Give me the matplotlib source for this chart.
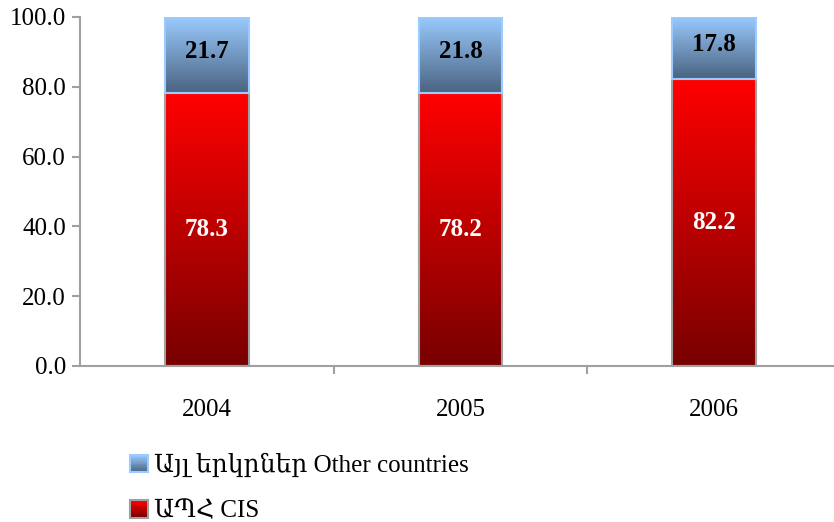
import numpy as np
import matplotlib.pyplot as plt
from matplotlib.colors import LinearSegmentedColormap
from matplotlib.legend_handler import HandlerBase
from matplotlib.patches import Rectangle, Patch

years = ["2004", "2005", "2006"]
cis = [78.3, 78.2, 82.2]
other = [21.7, 21.8, 17.8]
yticks = [0, 20, 40, 60, 80, 100]
label_other = "Այլ երկրներ Other countries"
label_cis = "ԱՊՀ CIS"

plt.rcParams['font.family'] = ['Liberation Serif', 'DejaVu Serif']

red_cmap = LinearSegmentedColormap.from_list("red", ["#780000", "#ff0000"])
blue_cmap = LinearSegmentedColormap.from_list("blue", ["#4a6380", "#9acbff"])
grad = np.linspace(0, 1, 256).reshape(-1, 1)


class GradientHandler(HandlerBase):
    """Legend square drawn as a stack of thin strips"""
    def __init__(self, cmap, edge):
        super().__init__()
        self.cmap = cmap
        self.edge = edge

    def create_artists(self, legend, orig_handle, xdescent, ydescent,
                       width, height, fontsize, trans):
        side = height * 0.85
        x0 = -xdescent + width - side
        y0 = -ydescent + (height - side) / 2
        arts = []
        n = 20
        for i in range(n):
            arts.append(Rectangle((x0, y0 + side * i / n), side, side / n + 0.3,
                                  facecolor=self.cmap(i / (n - 1)),
                                  edgecolor='none', transform=trans))
        arts.append(Rectangle((x0, y0), side, side, facecolor='none',
                              edgecolor=self.edge, linewidth=1.5,
                              transform=trans))
        return arts


fig = plt.figure(figsize=(8.34, 5.22), dpi=100)
ax = fig.add_axes([0.0959, 0.2989, 0.9125, 0.6686])

x = np.arange(len(years))
bars_cis = ax.bar(x, cis, width=0.33, color='none', edgecolor='#a0a0a0',
                  linewidth=1.5, zorder=3)
bars_oth = ax.bar(x, other, width=0.33, bottom=cis, color='none',
                  edgecolor='#9ccbff', linewidth=1.5, zorder=3)

for bars, cmap in ((bars_cis, red_cmap), (bars_oth, blue_cmap)):
    for p in bars:
        x0, y0 = p.get_x(), p.get_y()
        im = ax.imshow(grad, cmap=cmap, origin='lower', aspect='auto',
                       extent=(x0, x0 + p.get_width(), y0, y0 + p.get_height()),
                       zorder=2, interpolation='bilinear')
        im.set_clip_path(p)

for i in range(len(years)):
    ax.text(x[i], cis[i] / 2, f"{cis[i]:.1f}", ha='center', va='center',
            color='white', fontsize=18, fontweight='bold', zorder=4)
    ax.text(x[i], cis[i] + other[i] / 2 + 1, f"{other[i]:.1f}", ha='center',
            va='center', color='black', fontsize=18, fontweight='bold',
            zorder=4)

ax.set_xlim(-0.5, 2.5)
ax.set_ylim(0, 100)
ax.set_yticks(yticks)
ax.set_yticklabels([f"{v:.1f}" for v in yticks], fontsize=18)
ax.set_xticks(x)
ax.set_xticklabels(years, fontsize=18)
ax.tick_params(axis='x', length=0, pad=24)
ax.set_xticks([0.5, 1.5, 2.5], minor=True)
ax.tick_params(axis='x', which='minor', length=6, width=1.5, color='#a0a0a0')
ax.tick_params(axis='y', length=6, width=1.5, color='#a0a0a0', pad=4)

for side in ('top', 'right'):
    ax.spines[side].set_visible(False)
for side in ('left', 'bottom'):
    ax.spines[side].set_color('#a0a0a0')
    ax.spines[side].set_linewidth(1.5)

h_oth = Patch(label=label_other)
h_cis = Patch(label=label_cis)
fig.legend([h_oth, h_cis], [label_other, label_cis],
           handler_map={h_oth: GradientHandler(blue_cmap, '#9ccbff'),
                        h_cis: GradientHandler(red_cmap, '#a0a0a0')},
           loc='upper left', bbox_to_anchor=(0.138, 0.156), frameon=False,
           fontsize=18, handlelength=0.8, handleheight=0.9, handletextpad=0.25,
           labelspacing=0.85, borderpad=0)

fig.savefig("out.png", dpi=100)
